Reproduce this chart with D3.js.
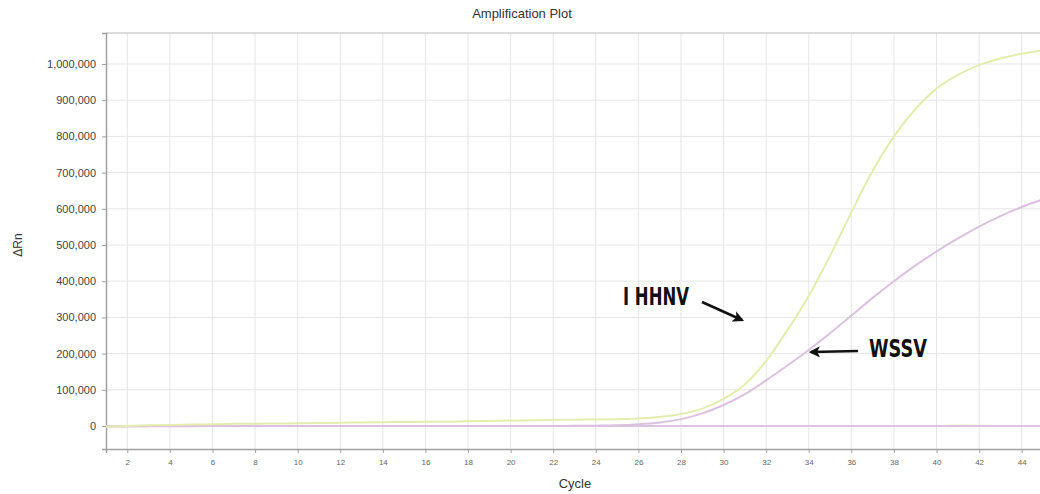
<!DOCTYPE html>
<html>
<head>
<meta charset="utf-8">
<script src="https://cdn.jsdelivr.net/npm/d3@7"></script>
<style>
  html, body { margin: 0; padding: 0; background: #fff; overflow: hidden; }
  svg { display: block; }
</style>
</head>
<body>
<svg id="chart" width="1040" height="494"></svg>
<script>
// ---- data ----
const cycles = d3.range(1, 46);
const ihhnv = [-2000, 0, 2000, 3000, 4000, 5000, 6000, 6500, 7000, 7500,
  8000, 9000, 10000, 10500, 11000, 11500, 12000, 13000, 14000, 15000,
  16000, 17000, 17500, 18000, 19000, 21000, 25000, 33000, 48000, 75000,
  115000, 180000, 265000, 360000, 470000, 590000, 705000, 800000, 875000, 932000,
  970000, 997000, 1015000, 1028000, 1037000];
const wssv = [-2000, -1500, -1000, -1000, -500, 0, 0, 0, 0, 0,
  0, 0, 0, 0, 0, 0, 0, 0, 0, 0,
  0, 0, 500, 1000, 2000, 5000, 10000, 19000, 35000, 58000,
  88000, 126000, 167000, 210000, 256000, 305000, 354000, 400000, 443000, 482000,
  518000, 551000, 580000, 605000, 626000];
const negPink = [0, 0, 0, 0, 0, 0, 0, 0, 0, 0, 0, 0, 0, 0, 0, 0, 0, 0, 0, 0,
  0, 0, 0, 0, 0, 0, 0, 0, 0, 0, 0, 0, 0, 0, 0, 0, 0, 0, 0, 0, 0, 0, 0, 0, 0];
const negYellow = [0, 0, 0, 0, 0, 0, 0, 0, 0, 0, 0, 0, 0, 0, 0, 0, 0, 0, 0, 0,
  0, 0, 0, 0, 0, 0, 0, 0, 0, 0, 0, 0, 0, 0, 0, 0, 0, 0, 0, 0, 1500, 1000, 0, 0, 0];
const xTicks = d3.range(2, 46, 2);
const yTicks = d3.range(0, 1000001, 100000);
const title = "Amplification Plot";
const xLabel = "Cycle";
const yLabel = "ΔRn";

// ---- layout ----
const svg = d3.select("#chart");
const mLeft = 106, mRight = 1043, mTop = 33, mBottom = 449;
const x = d3.scaleLinear().domain([1, 45]).range([mLeft, mRight]);
const y = d3.scaleLinear().domain([-63500, 1085600]).range([mBottom, mTop]);
const font = "'Liberation Sans', Arial, sans-serif";

// grid
const grid = svg.append("g");
grid.selectAll("line.v").data(xTicks).join("line")
  .attr("x1", d => x(d)).attr("x2", d => x(d))
  .attr("y1", mTop).attr("y2", mBottom)
  .attr("stroke", "#e6e6e6").attr("stroke-width", 1);
grid.selectAll("line.h").data(yTicks).join("line")
  .attr("x1", mLeft).attr("x2", 1040)
  .attr("y1", d => y(d)).attr("y2", d => y(d))
  .attr("stroke", "#e6e6e6").attr("stroke-width", 1);
// top border
svg.append("line").attr("x1", mLeft).attr("x2", 1040).attr("y1", mTop).attr("y2", mTop)
  .attr("stroke", "#d0d0d0").attr("stroke-width", 1.5);

// axes
const yAxis = d3.axisLeft(y).tickValues(yTicks).tickSize(4).tickPadding(6)
  .tickFormat(d3.format(","));
const gy = svg.append("g").attr("transform", `translate(${mLeft},0)`).call(yAxis);
gy.select(".domain").attr("stroke", "#a0a0a0").attr("stroke-width", 1.5);
gy.selectAll(".tick line").attr("stroke", "#a0a0a0");
gy.selectAll("text").attr("font-family", font).attr("font-size", 11).attr("fill", "#444");

const xAxis = d3.axisBottom(x).tickValues(xTicks).tickSize(4).tickPadding(6);
const gx = svg.append("g").attr("transform", `translate(0,${mBottom})`).call(xAxis);
gx.select(".domain").attr("stroke", "#a0a0a0").attr("stroke-width", 1.5);
gx.selectAll(".tick line").attr("stroke", "#a0a0a0");
gx.selectAll("text").attr("font-family", font).attr("font-size", 8).attr("fill", "#666");

// curves
const line = d3.line().x((d, i) => x(cycles[i])).y(d => y(d)).curve(d3.curveMonotoneX);
const series = [
  { data: negYellow, color: "#e8efb4" },
  { data: negPink, color: "#dcc4e2" },
  { data: wssv, color: "#dcc0e0" },
  { data: ihhnv, color: "#e4edae" }
];
svg.append("g").selectAll("path").data(series).join("path")
  .attr("d", d => line(d.data))
  .attr("fill", "none")
  .attr("stroke", d => d.color)
  .attr("stroke-width", 2);

// titles
svg.append("text").attr("x", 522).attr("y", 18).attr("text-anchor", "middle")
  .attr("font-family", font).attr("font-size", 13).attr("fill", "#333").text(title);
svg.append("text").attr("x", 575).attr("y", 488).attr("text-anchor", "middle")
  .attr("font-family", font).attr("font-size", 13).attr("fill", "#333").text(xLabel);
svg.append("text").attr("transform", "translate(22,245) rotate(-90)").attr("text-anchor", "middle")
  .attr("font-family", font).attr("font-size", 12).attr("fill", "#333").text(yLabel);

// annotations
const defs = svg.append("defs");
defs.append("marker").attr("id", "ah").attr("viewBox", "0 0 10 10")
  .attr("refX", 8).attr("refY", 5).attr("markerWidth", 4.5).attr("markerHeight", 4.5)
  .attr("orient", "auto")
  .append("path").attr("d", "M0,0 L10,5 L0,10 L2.5,5 Z").attr("fill", "#111");

svg.append("text").attr("x", 623).attr("y", 305)
  .attr("font-family", "'DejaVu Sans', sans-serif").attr("font-size", 24).attr("font-weight", "bold")
  .attr("textLength", 66).attr("lengthAdjust", "spacingAndGlyphs")
  .attr("fill", "#111").text("I HHNV");
svg.append("line").attr("x1", 702).attr("y1", 302).attr("x2", 742).attr("y2", 320)
  .attr("stroke", "#111").attr("stroke-width", 2.5).attr("marker-end", "url(#ah)");

svg.append("text").attr("x", 869).attr("y", 357)
  .attr("font-family", "'DejaVu Sans', sans-serif").attr("font-size", 24).attr("font-weight", "bold")
  .attr("textLength", 58).attr("lengthAdjust", "spacingAndGlyphs")
  .attr("fill", "#111").text("WSSV");
svg.append("line").attr("x1", 858).attr("y1", 351).attr("x2", 811).attr("y2", 352)
  .attr("stroke", "#111").attr("stroke-width", 2.5).attr("marker-end", "url(#ah)");
</script>
</body>
</html>
